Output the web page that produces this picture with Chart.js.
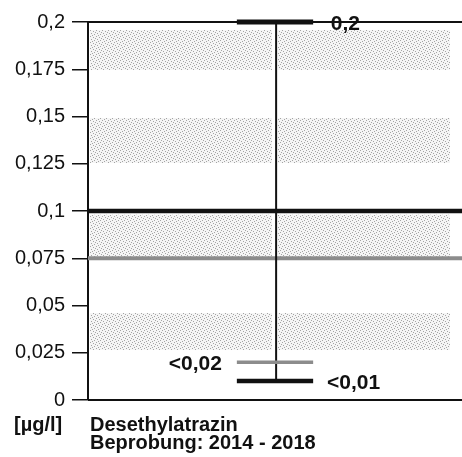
<!DOCTYPE html>
<html>
<head>
<meta charset="utf-8">
<script src="https://cdn.jsdelivr.net/npm/chart.js@4/dist/chart.umd.min.js"></script>
<style>
html,body{margin:0;padding:0;background:#fff;}
#wrap{width:462px;height:457px;}
</style>
</head>
<body>
<div id="wrap"><canvas id="c" width="462" height="457"></canvas></div>
<script>
// ---- data ----
const yTicks = [0, 0.025, 0.05, 0.075, 0.1, 0.125, 0.15, 0.175, 0.2];
const yTickLabels = ['0', '0,025', '0,05', '0,075', '0,1', '0,125', '0,15', '0,175', '0,2'];
const bandLow  = [0.0265, 0.0756, 0.1254, 0.1746];
const bandHigh = [0.0460, 0.0980, 0.1492, 0.1958];
const refValues = [0.1, 0.075];
const rangeValues = [0.2, 0.01];          // max / min of measurements
const markerValues = [0.2, 0.02, 0.01];
const markerLabels = ['0,2', '<0,02', '<0,01'];
const unitLabel = '[µg/l]';
const titleLines = ['Desethylatrazin', 'Beprobung: 2014 - 2018'];

// ---- styles / positions ----
const refColors = ['#111111', '#8c8c8c'];
const refWidths = [4.5, 4];
const markerColors = ['#111111', '#8c8c8c', '#111111'];
const markerWidths = [5, 3.5, 4.5];
const centerX = 0.503;
const barX0 = 0.398, barX1 = 0.602;
const bandSegs = [[0.005, 0.492], [0.508, 0.968]];
const labelX = [0.649, 0.358, 0.639];
const labelAlign = ['left', 'right', 'left'];

// stipple pattern (fixed layout)
function makePattern() {
  const t = document.createElement('canvas');
  t.width = 6; t.height = 6;
  const g = t.getContext('2d');
  g.fillStyle = '#f5f5f5';
  g.fillRect(0, 0, 6, 6);
  g.fillStyle = '#a4a4a4';
  [[0,0],[3,1],[1,3],[4,4],[5,2],[2,5]].forEach(p => g.fillRect(p[0], p[1], 1, 1));
  return g.createPattern(t, 'repeat');
}
const pat = makePattern();

const datasets = [];
// bands
bandLow.forEach((lo, i) => {
  bandSegs.forEach(seg => {
    datasets.push({
      data: [{x: seg[0], y: bandHigh[i]}, {x: seg[1], y: bandHigh[i]}],
      borderWidth: 0, pointRadius: 0, backgroundColor: pat, fill: '+1', order: 10
    });
    datasets.push({
      data: [{x: seg[0], y: lo}, {x: seg[1], y: lo}],
      borderWidth: 0, pointRadius: 0, fill: false, order: 10
    });
  });
});
// frame lines at 0 and 0.2
[yTicks[0], yTicks[yTicks.length - 1]].forEach(v => {
  datasets.push({data: [{x: 0, y: v}, {x: 1, y: v}], borderColor: '#111', borderWidth: 2, pointRadius: 0, fill: false, clip: false, order: 5});
});
// reference lines
refValues.forEach((v, i) => {
  datasets.push({data: [{x: 0, y: v}, {x: 1, y: v}], borderColor: refColors[i], borderWidth: refWidths[i], pointRadius: 0, fill: false, order: 3});
});
// range line
datasets.push({data: rangeValues.map(v => ({x: centerX, y: v})), borderColor: '#111', borderWidth: 2, pointRadius: 0, fill: false, clip: false, order: 2});
// markers
markerValues.forEach((v, i) => {
  datasets.push({data: [{x: barX0, y: v}, {x: barX1, y: v}], borderColor: markerColors[i], borderWidth: markerWidths[i], pointRadius: 0, fill: false, clip: false, order: 1});
});

const textPlugin = {
  id: 'texts',
  afterDatasetsDraw(chart) {
    const ctx = chart.ctx, xs = chart.scales.x, ys = chart.scales.y;
    ctx.save();
    ctx.fillStyle = '#111';
    ctx.textBaseline = 'middle';
    ctx.font = 'bold 21px "Liberation Sans", Arial, sans-serif';
    markerValues.forEach((v, i) => {
      ctx.textAlign = labelAlign[i];
      ctx.fillText(markerLabels[i], xs.getPixelForValue(labelX[i]), ys.getPixelForValue(v) + 2);
    });
    ctx.textBaseline = 'alphabetic';
    ctx.textAlign = 'left';
    ctx.font = 'bold 20px "Liberation Sans", Arial, sans-serif';
    const b = chart.chartArea.bottom;
    ctx.fillText(unitLabel, 14, b + 31);
    ctx.fillText(titleLines[0], 90, b + 31);
    ctx.fillText(titleLines[1], 90, b + 49);
    ctx.restore();
  }
};

new Chart(document.getElementById('c'), {
  type: 'line',
  data: {datasets},
  options: {
    responsive: false,
    animation: false,
    events: [],
    layout: {padding: {top: 22, bottom: 57, right: 0, left: 0}},
    plugins: {legend: {display: false}, tooltip: {enabled: false}, title: {display: false}},
    scales: {
      x: {type: 'linear', min: 0, max: 1, display: false},
      y: {
        type: 'linear', min: 0, max: 0.2,
        afterBuildTicks(s) { s.ticks = yTicks.map(v => ({value: v})); },
        afterFit(s) { s.width = 88; },
        ticks: {
          callback: (v, i) => yTickLabels[i],
          color: '#111',
          padding: 7,
          font: {family: '"Liberation Sans", Arial, sans-serif', size: 20}
        },
        grid: {drawOnChartArea: false, drawTicks: true, tickLength: 16, color: '#111', lineWidth: 1.5},
        border: {display: true, color: '#111', width: 2}
      }
    }
  },
  plugins: [textPlugin]
});
</script>
</body>
</html>
